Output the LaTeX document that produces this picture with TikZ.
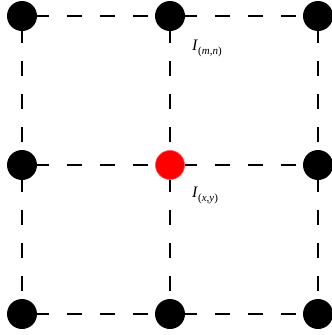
\documentclass[tikz,border=0pt]{standalone}
\usepackage{fontspec}
\setmainfont{Liberation Serif}
\begin{document}
\begin{tikzpicture}[x=1pt,y=-1pt,
  dot/.style={circle,fill=black,minimum size=30pt,inner sep=0pt},
  reddot/.style={circle,fill=red,draw=red!70!white,line width=0.6pt,minimum size=29pt,inner sep=0pt},
  grid/.style={line width=2.8pt,dash pattern=on 15pt off 18pt,dash phase=3pt},
  lbl/.style={font=\fontsize{16}{18}\selectfont,inner sep=0pt,anchor=base west}]
\useasboundingbox (0,0) rectangle (332,335);
\node[dot] (a1) at (22,16) {};
\node[dot] (a2) at (170,16) {};
\node[dot] (a3) at (318,16) {};
\node[dot] (b1) at (22,165) {};
\node[reddot] (b2) at (170,165) {};
\node[dot] (b3) at (318,165) {};
\node[dot] (c1) at (22,314) {};
\node[dot] (c2) at (170,314) {};
\node[dot] (c3) at (318,314) {};
\foreach \u/\v in {a1/a2,a2/a3,b1/b2,b2/b3,c1/c2,c2/c3,a1/b1,b1/c1,a2/b2,b2/c2,a3/b3,b3/c3}
  \draw[grid] (\u) -- (\v);
\node[lbl] (l1) at (192,50) {\textit{I}\raisebox{-4pt}{\fontsize{11}{13}\selectfont(\textit{m},\textit{n})}};
\node[lbl] (l2) at (192,197) {\textit{I}\raisebox{-4pt}{\fontsize{11}{13}\selectfont(\textit{x},\textit{y})}};
\end{tikzpicture}
\end{document}
